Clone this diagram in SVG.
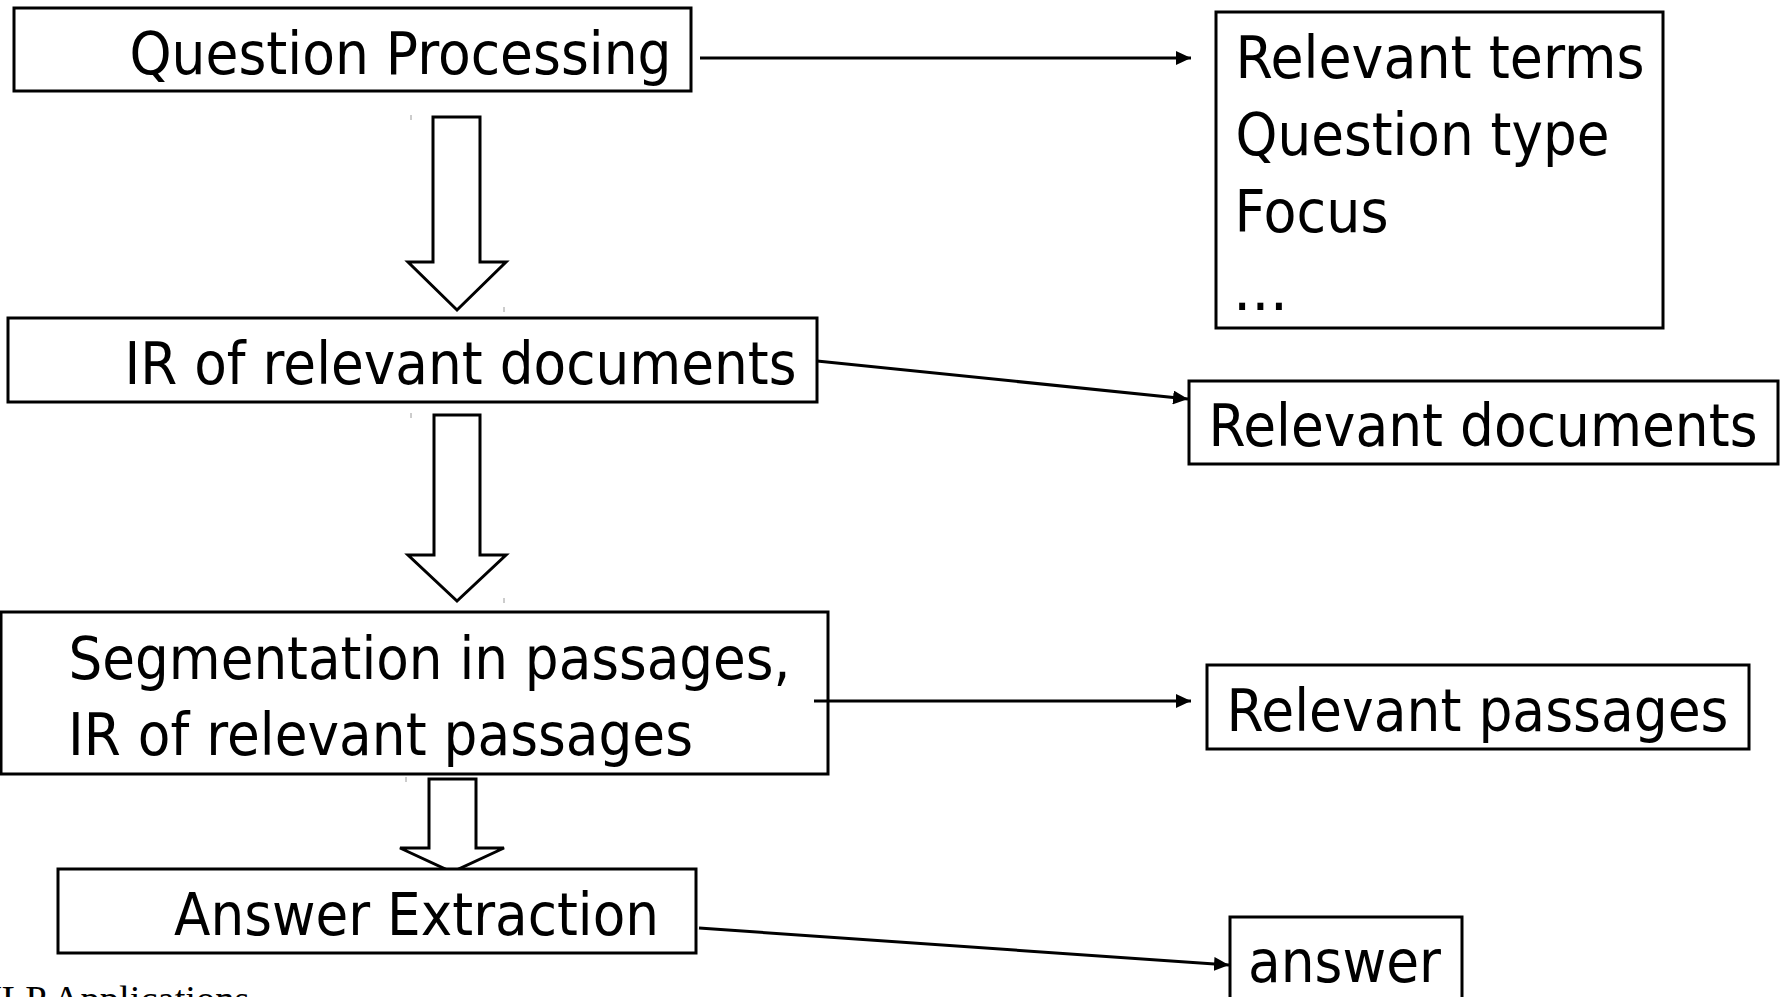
<svg xmlns="http://www.w3.org/2000/svg" width="1785" height="997" viewBox="0 0 1785 997">
  <style>
    .box { fill: #ffffff; stroke: #000000; stroke-width: 3; }
    .lbl { font-family: "DejaVu Sans", "Noto Sans", sans-serif; font-size: 58px; fill: #000000; }
    .flow { fill: #ffffff; stroke: #000000; stroke-width: 3; stroke-linejoin: miter; }
    .link { fill: none; stroke: #000000; stroke-width: 3; }
    .tick { stroke: #9a9a9a; stroke-width: 1; }
    .foot { font-family: "Liberation Serif", "Times New Roman", serif; font-size: 38.5px; fill: #000000; }
  </style>
  <defs>
    <marker id="head" markerUnits="userSpaceOnUse" markerWidth="16" markerHeight="14" refX="15" refY="7" orient="auto">
      <path d="M0,0 L15,7 L0,14 Z" fill="#000000"/>
    </marker>
  </defs>

  <rect width="1785" height="997" fill="#ffffff"/>

  <!-- block arrows between the pipeline stages -->
  <g id="flow-arrows">
    <path class="flow" d="M433,117 L480,117 L480,262 L506,262 L457,310 L408,262 L433,262 Z"/>
    <line class="tick" x1="411" y1="115" x2="411" y2="120"/>
    <line class="tick" x1="504" y1="307" x2="504" y2="312"/>
    <path class="flow" d="M434,415 L480,415 L480,555 L506,555 L457,601 L408,555 L434,555 Z"/>
    <line class="tick" x1="411" y1="413" x2="411" y2="418"/>
    <line class="tick" x1="504" y1="598" x2="504" y2="603"/>
    <path class="flow" d="M429,779 L476,779 L476,848 L504,848 L452,872 L400,848 L429,848 Z"/>
    <line class="tick" x1="406" y1="777" x2="406" y2="782"/>
    <line class="tick" x1="499" y1="869" x2="499" y2="874"/>
  </g>

  <!-- pipeline stages -->
  <g id="question-processing">
    <rect class="box" x="14" y="8" width="677" height="83"/>
    <text class="lbl" x="129.5" y="74" textLength="542" lengthAdjust="spacingAndGlyphs">Question Processing</text>
  </g>

  <g id="ir-documents">
    <rect class="box" x="8" y="318" width="809" height="84"/>
    <text class="lbl" x="124.5" y="383.5" textLength="672" lengthAdjust="spacingAndGlyphs">IR of relevant documents</text>
  </g>

  <g id="segmentation">
    <rect class="box" x="1" y="612" width="827" height="162"/>
    <text class="lbl" x="68.5" y="678.5" textLength="722" lengthAdjust="spacingAndGlyphs">Segmentation in passages,</text>
    <text class="lbl" x="68" y="755" textLength="625" lengthAdjust="spacingAndGlyphs">IR of relevant passages</text>
  </g>

  <g id="answer-extraction">
    <rect class="box" x="58" y="869" width="638" height="84"/>
    <text class="lbl" x="174" y="934.5" textLength="485" lengthAdjust="spacingAndGlyphs">Answer Extraction</text>
  </g>

  <!-- outputs of each stage -->
  <g id="question-info">
    <rect class="box" x="1216" y="12" width="447" height="316"/>
    <text class="lbl" x="1235.5" y="77.5" textLength="409" lengthAdjust="spacingAndGlyphs">Relevant terms</text>
    <text class="lbl" x="1235.5" y="155" textLength="374" lengthAdjust="spacingAndGlyphs">Question type</text>
    <text class="lbl" x="1234.5" y="232" textLength="154" lengthAdjust="spacingAndGlyphs">Focus</text>
    <text class="lbl" x="1233" y="309.5" textLength="55" lengthAdjust="spacingAndGlyphs">...</text>
  </g>

  <g id="relevant-documents">
    <rect class="box" x="1189" y="381" width="589" height="83"/>
    <text class="lbl" x="1208.5" y="446" textLength="549" lengthAdjust="spacingAndGlyphs">Relevant documents</text>
  </g>

  <g id="relevant-passages">
    <rect class="box" x="1207" y="665" width="542" height="84"/>
    <text class="lbl" x="1226.5" y="731" textLength="502" lengthAdjust="spacingAndGlyphs">Relevant passages</text>
  </g>

  <g id="answer">
    <rect class="box" x="1230" y="917" width="232" height="100"/>
    <text class="lbl" x="1248" y="981.5" textLength="193" lengthAdjust="spacingAndGlyphs">answer</text>
  </g>

  <!-- connectors from stages to their outputs -->
  <g id="connectors">
    <line class="link" x1="700" y1="58" x2="1191" y2="58" marker-end="url(#head)"/>
    <line class="link" x1="817" y1="361" x2="1188" y2="399" marker-end="url(#head)"/>
    <line class="link" x1="814" y1="701" x2="1191" y2="701" marker-end="url(#head)"/>
    <line class="link" x1="699" y1="928" x2="1229" y2="965" marker-end="url(#head)"/>
  </g>

  <text class="foot" x="-26" y="1012">NLP Applications</text>
</svg>
